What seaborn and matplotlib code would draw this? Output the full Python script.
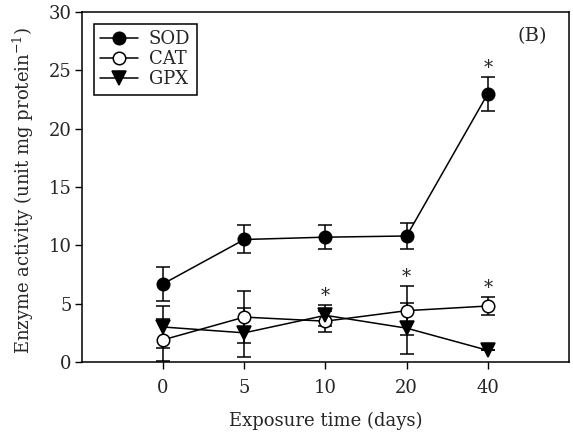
import numpy as np
import pandas as pd
import matplotlib
matplotlib.use('Agg')
import matplotlib.pyplot as plt
import seaborn as sns

# exposure time (days), plotted as evenly spaced categories
days = ['0', '5', '10', '20', '40']

sod = [6.7, 10.5, 10.7, 10.8, 23.0]
sod_err = [1.45, 1.2, 1.0, 1.1, 1.45]
cat = [1.9, 3.85, 3.5, 4.4, 4.8]
cat_err = [1.8, 2.2, 0.9, 2.1, 0.8]
gpx = [3.0, 2.5, 4.0, 2.9, 1.0]
gpx_err = [1.8, 2.1, 0.9, 2.2, 0.0]

# significance stars: (series, day index)
stars = [('SOD', 4), ('GPX', 2), ('CAT', 3), ('CAT', 4)]

sns.set_style('ticks')
plt.rcParams['font.family'] = ['DejaVu Serif']
plt.rcParams['mathtext.fontset'] = 'dejavuserif'

pos = np.arange(len(days))
series = {
    'SOD': (sod, sod_err, 'o', 'black'),
    'CAT': (cat, cat_err, 'o', 'white'),
    'GPX': (gpx, gpx_err, 'v', 'black'),
}

fig = plt.figure(figsize=(5.73, 4.37), dpi=100)
ax = fig.add_axes([0.143, 0.1716, 0.85, 0.801])

for name, (vals, errs, mk, fc) in series.items():
    ax.errorbar(pos, vals, yerr=errs, fmt='none', ecolor='black',
                elinewidth=1.1, capsize=5, capthick=1.1, zorder=2)
    df = pd.DataFrame({'pos': pos, 'val': vals})
    sns.lineplot(data=df, x='pos', y='val', ax=ax, color='black',
                 linewidth=1.1, marker=mk, markersize=9 if mk == 'o' else 10,
                 markerfacecolor=fc, markeredgecolor='black',
                 markeredgewidth=1.1, label=name, zorder=3)

for name, i in stars:
    vals, errs = series[name][0], series[name][1]
    ax.text(pos[i], vals[i] + errs[i] + 0.75, '*', ha='center', va='center',
            fontsize=13)

ax.text(0.925, 0.93, '(B)', transform=ax.transAxes, ha='center',
        va='center', fontsize=14)

ax.set_xlim(-1, 5)
ax.set_ylim(0, 30)
ax.set_xticks(pos)
ax.set_xticklabels(days)
ax.set_yticks(np.arange(0, 31, 5))
ax.tick_params(labelsize=13, length=5, width=1, color='black')
ax.tick_params(axis='x', pad=7)
ax.tick_params(axis='y', pad=2.5)
for s in ax.spines.values():
    s.set_linewidth(1.1)
    s.set_color('black')
ax.set_xlabel('Exposure time (days)', fontsize=13, va='center')
ax.set_ylabel('Enzyme activity (unit mg protein$^{-1}$)', fontsize=13,
              va='center')
ax.xaxis.set_label_coords(0.5, -0.169)
ax.yaxis.set_label_coords(-0.12, 0.49)

leg = ax.legend(loc='upper left', fontsize=13, frameon=True, fancybox=False,
                framealpha=1, edgecolor='black', handlelength=2.1,
                borderaxespad=0.65, borderpad=0.35, labelspacing=0.12,
                handletextpad=0.6)
leg.get_frame().set_linewidth(1.1)

plt.savefig('out.png', dpi=100)
